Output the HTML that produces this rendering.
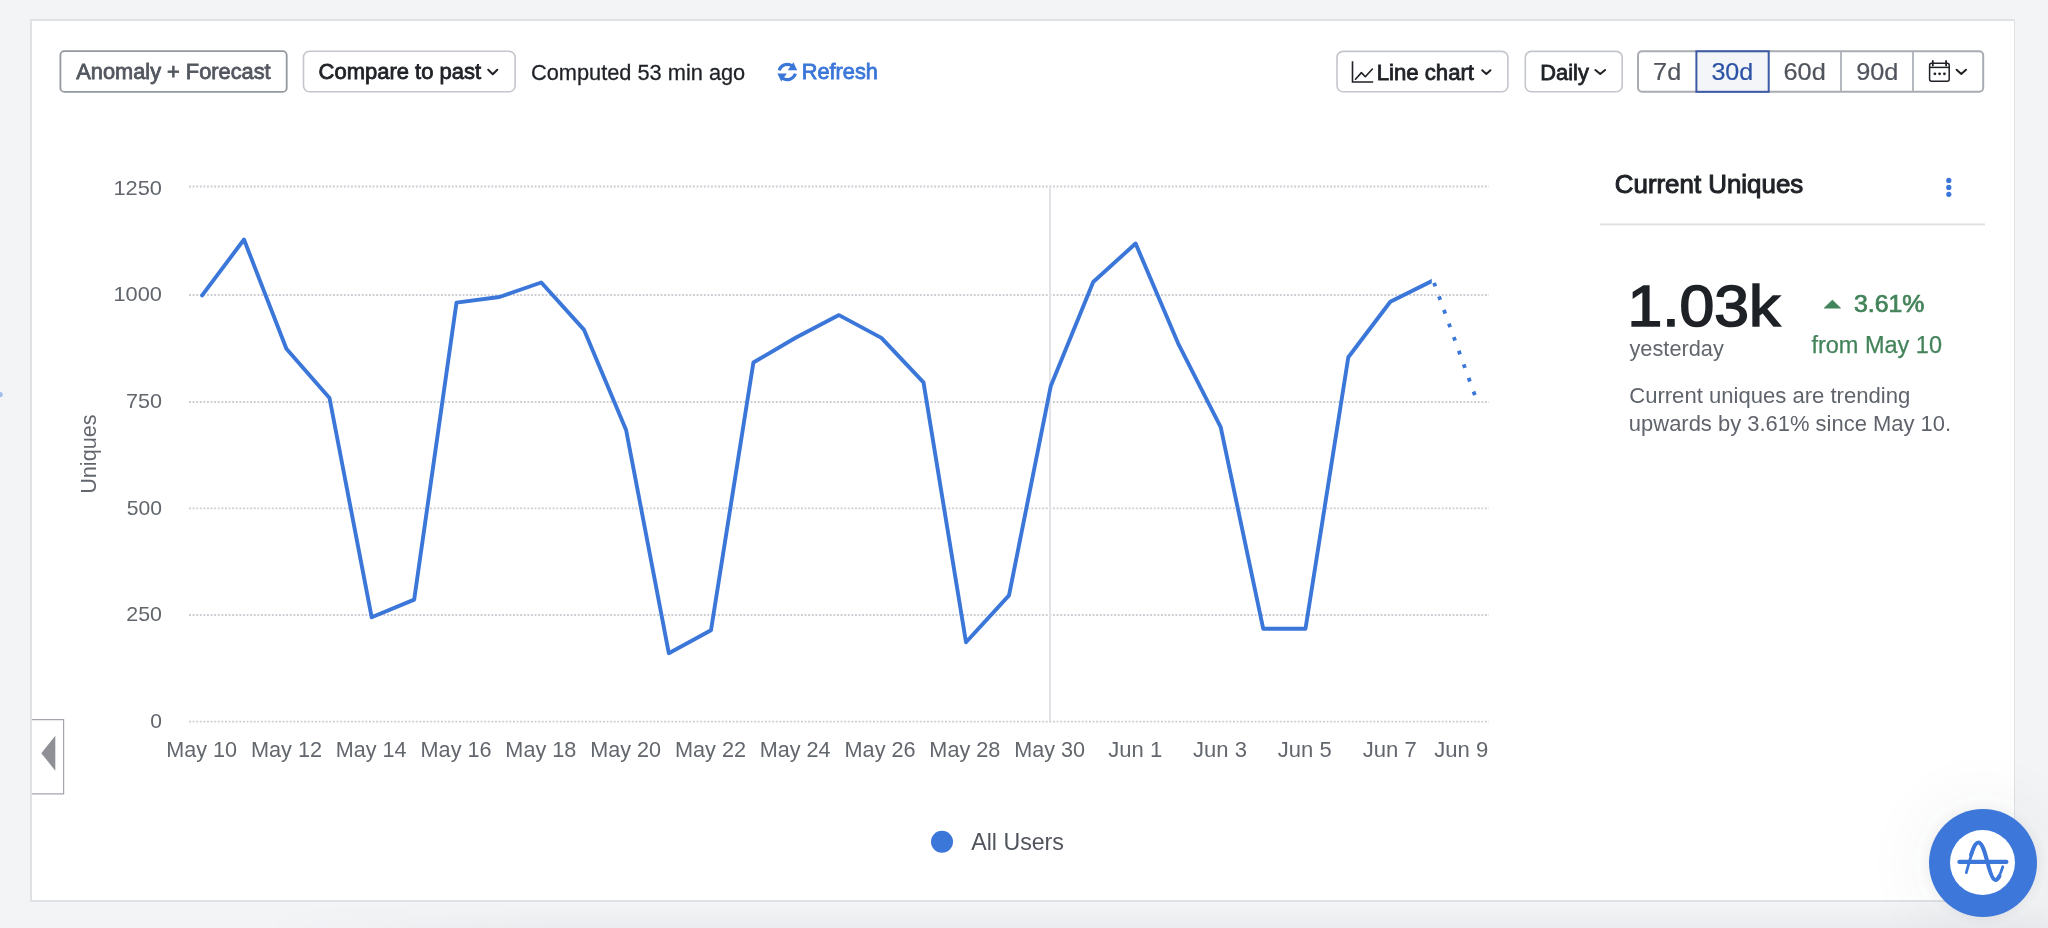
<!DOCTYPE html>
<html><head><meta charset="utf-8">
<style>
*{box-sizing:border-box;margin:0;padding:0}
html,body{width:2048px;height:928px;overflow:hidden;background:#f3f4f6;font-family:"Liberation Sans",sans-serif}
#card{position:absolute;left:30px;top:19px;width:1985px;height:883px;background:#fff;border:2px solid #dfe1e5;border-right-width:1px}
svg{position:absolute;left:0;top:0;will-change:transform}
svg text{font-family:"Liberation Sans",sans-serif}
#bsh{position:absolute;left:260px;top:904px;width:1788px;height:24px;background:linear-gradient(to bottom,rgba(40,50,70,0),rgba(40,50,70,0.045));-webkit-mask-image:linear-gradient(to right,transparent,#000 300px)}
#amp{position:absolute;left:1929px;top:809px;width:108px;height:108px;border-radius:50%;background:#3c77d9;box-shadow:0 0 10px 2px rgba(40,50,70,0.06),0 0 60px 20px rgba(40,50,70,0.035)}
#amp .in{position:absolute;left:21.3px;top:21.3px;width:65px;height:65px;border-radius:50%;background:#fff}
#amp svg{position:absolute;left:0;top:0;will-change:transform}
</style></head><body>
<div id="card"></div>
<div id="bsh"></div>
<svg width="2048" height="928" viewBox="0 0 2048 928">
<rect x="60.4" y="51.199999999999996" width="226.3" height="40.7" rx="4" fill="#fff" stroke="#94989f" stroke-width="1.8"/>
<rect x="303.5" y="51.199999999999996" width="211.6" height="40.5" rx="6" fill="#fff" stroke="#c3c6cc" stroke-width="1.6"/>
<rect x="1337.0" y="51.4" width="170.9" height="40.39999999999999" rx="6" fill="#fff" stroke="#c3c6cc" stroke-width="1.6"/>
<rect x="1525.3" y="51.4" width="96.9" height="40.39999999999999" rx="6" fill="#fff" stroke="#c3c6cc" stroke-width="1.6"/>
<rect x="1638.0" y="51.3" width="345.20000000000005" height="40.5" rx="4" fill="#fff" stroke="#a9acb2" stroke-width="2"/>
<rect x="1696.4" y="51.3" width="72.3" height="40.5" fill="#f3f5f9" stroke="#3c5aa5" stroke-width="2"/>
<line x1="1841" y1="52" x2="1841" y2="91" stroke="#b5b8be" stroke-width="2"/>
<line x1="1913" y1="52" x2="1913" y2="91" stroke="#b5b8be" stroke-width="2"/>
<text x="76.30" y="79.30" font-size="22.0" fill="#52565e" stroke="#52565e" stroke-width="0.8" paint-order="stroke" textLength="194.32" lengthAdjust="spacingAndGlyphs">Anomaly + Forecast</text>
<text x="318.60" y="79.30" font-size="22.0" fill="#1e2126" stroke="#1e2126" stroke-width="0.8" paint-order="stroke" textLength="162.47" lengthAdjust="spacingAndGlyphs">Compare to past</text>
<text x="531.06" y="79.60" font-size="22.9" fill="#1e2126" stroke="#1e2126" stroke-width="0.3" paint-order="stroke" textLength="214.15" lengthAdjust="spacingAndGlyphs">Computed 53 min ago</text>
<text x="801.76" y="79.20" font-size="21.8" fill="#3b76d9" stroke="#3b76d9" stroke-width="0.8" paint-order="stroke" textLength="76.08" lengthAdjust="spacingAndGlyphs">Refresh</text>
<text x="1376.63" y="79.50" font-size="22.2" fill="#1e2126" stroke="#1e2126" stroke-width="0.8" paint-order="stroke" textLength="97.42" lengthAdjust="spacingAndGlyphs">Line chart</text>
<text x="1540.35" y="79.50" font-size="22.2" fill="#1e2126" stroke="#1e2126" stroke-width="0.8" paint-order="stroke" textLength="48.50" lengthAdjust="spacingAndGlyphs">Daily</text>
<text x="1653.14" y="79.80" font-size="23.6" fill="#50545c" stroke="#50545c" stroke-width="0.2" paint-order="stroke" textLength="28.06" lengthAdjust="spacingAndGlyphs">7d</text>
<text x="1711.40" y="79.80" font-size="23.6" fill="#2c52a6" stroke="#2c52a6" stroke-width="0.2" paint-order="stroke" textLength="41.82" lengthAdjust="spacingAndGlyphs">30d</text>
<text x="1783.53" y="79.80" font-size="23.6" fill="#50545c" stroke="#50545c" stroke-width="0.2" paint-order="stroke" textLength="42.30" lengthAdjust="spacingAndGlyphs">60d</text>
<text x="1856.26" y="79.80" font-size="23.6" fill="#50545c" stroke="#50545c" stroke-width="0.2" paint-order="stroke" textLength="42.17" lengthAdjust="spacingAndGlyphs">90d</text>
<polyline points="488.20000000000005,69.8 492.75,74.3 497.29999999999995,69.8" fill="none" stroke="#1e2126" stroke-width="2" stroke-linecap="round" stroke-linejoin="round"/>
<polyline points="1482.1999999999998,70.2 1486.35,74 1490.5,70.2" fill="none" stroke="#1e2126" stroke-width="2" stroke-linecap="round" stroke-linejoin="round"/>
<polyline points="1595.3999999999999,70 1600.25,74 1605.1000000000001,70" fill="none" stroke="#1e2126" stroke-width="2" stroke-linecap="round" stroke-linejoin="round"/>
<polyline points="1956.6,69.7 1961.3,73.9 1966.0,69.7" fill="none" stroke="#1e2126" stroke-width="2" stroke-linecap="round" stroke-linejoin="round"/>
<g fill="#3b76d9"><path d="M779.2 70.4 A8.6 8.6 0 0 1 792.2 65.8" fill="none" stroke="#3b76d9" stroke-width="3.2"/><polygon points="793.4,62.2 797.2,70.2 787.8,70.2"/><path d="M795.4 73.6 A8.6 8.6 0 0 1 782.4 78.2" fill="none" stroke="#3b76d9" stroke-width="3.2"/><polygon points="781.2,81.6 777.4,73.4 786.8,73.4"/></g>
<g fill="none" stroke="#1e2126" stroke-width="1.6"><polyline points="1352.5,61.2 1352.5,82 1373.2,82"/><polyline points="1355.5,79.2 1361.4,72.6 1365.3,76.7 1372.4,69.0" stroke-linejoin="round" stroke-linecap="round"/></g>
<g fill="none" stroke="#1e2126" stroke-width="1.5"><rect x="1929.6" y="63.2" width="19.6" height="18.1" rx="2"/><line x1="1929.6" y1="67.4" x2="1949.2" y2="67.4"/><line x1="1932.8" y1="61" x2="1932.8" y2="65.6" stroke-width="1.8" stroke-linecap="round"/><line x1="1946.1" y1="61" x2="1946.1" y2="65.6" stroke-width="1.8" stroke-linecap="round"/></g><g fill="#1e2126"><circle cx="1934.9" cy="73.8" r="1.4"/><circle cx="1939.6" cy="73.8" r="1.4"/><circle cx="1944.4" cy="73.8" r="1.4"/></g>
<line x1="189" y1="186.5" x2="1489" y2="186.5" stroke="#cbced3" stroke-width="1.8" stroke-dasharray="1.9 1.7"/>
<line x1="189" y1="295" x2="1489" y2="295" stroke="#cbced3" stroke-width="1.8" stroke-dasharray="1.9 1.7"/>
<line x1="189" y1="402" x2="1489" y2="402" stroke="#cbced3" stroke-width="1.8" stroke-dasharray="1.9 1.7"/>
<line x1="189" y1="508.3" x2="1489" y2="508.3" stroke="#cbced3" stroke-width="1.8" stroke-dasharray="1.9 1.7"/>
<line x1="189" y1="615" x2="1489" y2="615" stroke="#cbced3" stroke-width="1.8" stroke-dasharray="1.9 1.7"/>
<line x1="189" y1="721.7" x2="1489" y2="721.7" stroke="#cbced3" stroke-width="1.8" stroke-dasharray="1.9 1.7"/>
<line x1="1050" y1="187" x2="1050" y2="721" stroke="#e1e3e7" stroke-width="2"/>
<text x="113.41" y="194.80" font-size="20.8" fill="#62666d" textLength="48.54" lengthAdjust="spacingAndGlyphs">1250</text>
<text x="113.41" y="301.30" font-size="20.8" fill="#62666d" textLength="48.54" lengthAdjust="spacingAndGlyphs">1000</text>
<text x="126.02" y="407.80" font-size="20.8" fill="#62666d" textLength="36.01" lengthAdjust="spacingAndGlyphs">750</text>
<text x="126.75" y="514.80" font-size="20.8" fill="#62666d" textLength="35.26" lengthAdjust="spacingAndGlyphs">500</text>
<text x="126.33" y="621.20" font-size="20.8" fill="#62666d" textLength="35.69" lengthAdjust="spacingAndGlyphs">250</text>
<text x="150.26" y="727.90" font-size="20.8" fill="#62666d" textLength="11.70" lengthAdjust="spacingAndGlyphs">0</text>
<text x="166.17" y="756.90" font-size="22.7" fill="#62666d" textLength="70.87" lengthAdjust="spacingAndGlyphs">May 10</text>
<text x="250.96" y="756.90" font-size="22.7" fill="#62666d" textLength="71.21" lengthAdjust="spacingAndGlyphs">May 12</text>
<text x="335.77" y="756.90" font-size="22.7" fill="#62666d" textLength="70.76" lengthAdjust="spacingAndGlyphs">May 14</text>
<text x="420.57" y="756.90" font-size="22.7" fill="#62666d" textLength="70.98" lengthAdjust="spacingAndGlyphs">May 16</text>
<text x="505.37" y="756.90" font-size="22.7" fill="#62666d" textLength="70.98" lengthAdjust="spacingAndGlyphs">May 18</text>
<text x="590.17" y="756.90" font-size="22.7" fill="#62666d" textLength="70.87" lengthAdjust="spacingAndGlyphs">May 20</text>
<text x="674.96" y="756.90" font-size="22.7" fill="#62666d" textLength="71.21" lengthAdjust="spacingAndGlyphs">May 22</text>
<text x="759.77" y="756.90" font-size="22.7" fill="#62666d" textLength="70.76" lengthAdjust="spacingAndGlyphs">May 24</text>
<text x="844.57" y="756.90" font-size="22.7" fill="#62666d" textLength="70.98" lengthAdjust="spacingAndGlyphs">May 26</text>
<text x="929.37" y="756.90" font-size="22.7" fill="#62666d" textLength="70.98" lengthAdjust="spacingAndGlyphs">May 28</text>
<text x="1014.17" y="756.90" font-size="22.7" fill="#62666d" textLength="70.87" lengthAdjust="spacingAndGlyphs">May 30</text>
<text x="1108.27" y="756.90" font-size="22.7" fill="#62666d" textLength="53.95" lengthAdjust="spacingAndGlyphs">Jun 1</text>
<text x="1193.07" y="756.90" font-size="22.7" fill="#62666d" textLength="53.84" lengthAdjust="spacingAndGlyphs">Jun 3</text>
<text x="1277.87" y="756.90" font-size="22.7" fill="#62666d" textLength="53.84" lengthAdjust="spacingAndGlyphs">Jun 5</text>
<text x="1362.67" y="756.90" font-size="22.7" fill="#62666d" textLength="54.07" lengthAdjust="spacingAndGlyphs">Jun 7</text>
<text x="1434.27" y="756.90" font-size="22.7" fill="#62666d" textLength="54.06" lengthAdjust="spacingAndGlyphs">Jun 9</text>
<g transform="translate(96.4,492.2) rotate(-90)"><text x="-1.62" y="0.00" font-size="22" fill="#62666d" textLength="79.46" lengthAdjust="spacingAndGlyphs">Uniques</text></g>
<defs><clipPath id="cl"><rect x="0" y="0" width="1431.8" height="928"/></clipPath><clipPath id="cr"><rect x="1431.8" y="0" width="600" height="928"/></clipPath></defs>
<path d="M202.1,295.4 L244.0,239.5 L286.4,348.8 L329.5,398.0 L371.7,617.3 L414.2,599.6 L456.5,302.6 L499.4,297.0 L541.3,282.5 L583.9,329.6 L626.1,430.0 L668.8,653.2 L711.0,630.2 L753.4,362.5 L795.6,337.7 L839.0,315.1 L881.4,337.9 L923.5,382.4 L966.0,642.3 L1009.0,595.4 L1050.7,386.3 L1093.2,282.0 L1135.6,243.5 L1178.1,343.3 L1220.7,427.2 L1263.2,628.7 L1305.5,628.7 L1348.3,357.3 L1390.3,301.8 L1433.2,280.4 L1475.6,397.2" clip-path="url(#cl)" fill="none" stroke="#3b76d9" stroke-width="3.9" stroke-linejoin="round" stroke-linecap="round"/>
<line x1="1433.2" y1="280.4" x2="1475.6" y2="397.2" clip-path="url(#cr)" stroke="#3b76d9" stroke-width="3.8" stroke-dasharray="3.8 10.66" stroke-dashoffset="11.93"/>
<circle cx="942" cy="841.8" r="11" fill="#3b76d9"/>
<text x="971.20" y="849.90" font-size="23.7" fill="#50545c" textLength="92.73" lengthAdjust="spacingAndGlyphs">All Users</text>
<text x="1614.81" y="192.50" font-size="25.5" fill="#1e2126" stroke="#1e2126" stroke-width="1.0" paint-order="stroke" textLength="188.44" lengthAdjust="spacingAndGlyphs">Current Uniques</text>
<g fill="#3b76d9"><circle cx="1948.8" cy="180.4" r="2.6"/><circle cx="1948.8" cy="187.4" r="2.6"/><circle cx="1948.8" cy="194.3" r="2.6"/></g>
<rect x="1600" y="223.4" width="385" height="2" fill="#dfe1e5"/>
<text x="1627.41" y="325.90" font-size="57.3" fill="#1e2126" stroke="#1e2126" stroke-width="1.6" paint-order="stroke" textLength="152.87" lengthAdjust="spacingAndGlyphs">1.03k</text>
<text x="1629.49" y="355.90" font-size="22.2" fill="#62666d" textLength="94.32" lengthAdjust="spacingAndGlyphs">yesterday</text>
<polygon points="1824.4,308 1832.4,300.2 1840.4,308" fill="#43835a" stroke="#43835a" stroke-width="1" stroke-linejoin="round"/>
<text x="1853.96" y="311.70" font-size="23.2" fill="#43835a" stroke="#43835a" stroke-width="0.7" paint-order="stroke" textLength="70.37" lengthAdjust="spacingAndGlyphs">3.61%</text>
<text x="1811.47" y="353.15" font-size="23.1" fill="#43835a" stroke="#43835a" stroke-width="0.25" paint-order="stroke" textLength="130.48" lengthAdjust="spacingAndGlyphs">from May 10</text>
<text x="1629.20" y="402.70" font-size="22.5" fill="#5f636b" textLength="281.05" lengthAdjust="spacingAndGlyphs">Current uniques are trending</text>
<text x="1628.87" y="431.40" font-size="22.5" fill="#5f636b" textLength="322.20" lengthAdjust="spacingAndGlyphs">upwards by 3.61% since May 10.</text>
<path d="M32 719.7 H63.6 V793.8 H32" fill="#fff" stroke="#a3a6ac" stroke-width="1.2"/>
<polygon points="41.3,753.2 55.3,735.7 55.3,770.7" fill="#8e9096"/>
<circle cx="0.2" cy="394.6" r="2.6" fill="#8fb0ea" opacity="0.8"/>
</svg>
<div id="amp"><div class="in"></div>
<svg width="108" height="108" viewBox="1929 809 108 108">
<g fill="none" stroke="#3c77d9" stroke-linecap="round">
<line x1="1959.4" y1="861.9" x2="2006.4" y2="861.9" stroke-width="4.2"/>
<path d="M1966.3 872.6 C1970 860 1974 842.4 1978.3 842.4 C1983 842.4 1986 857 1989 868 C1991 875 1993 880 1995.4 880 C1998 880 2000.5 874 2002.8 866.8" stroke-width="2.8"/>
<path d="M1971 855 C1973 848 1975.5 842.4 1978.3 842.4 C1983 842.4 1986 857 1989 868 C1991 875 1993 880 1995.4 880 C1997 880 1998.5 878 1999.5 876" stroke-width="4"/>
</g></svg></div>
</body></html>
